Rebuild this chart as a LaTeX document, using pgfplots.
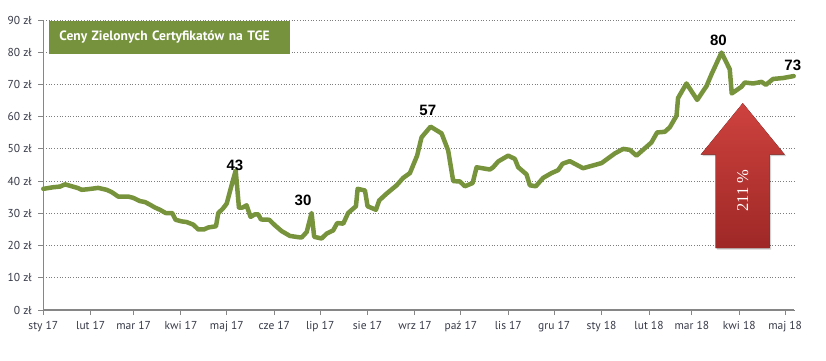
\documentclass[border=0pt]{standalone}
\usepackage{pgfplots}
\pgfplotsset{compat=1.18}
\usepackage{fontspec}
\setmainfont{PT Sans}
\newfontfamily\numfont{Liberation Sans}
\newfontfamily\arrowfont{Liberation Serif}
\definecolor{lineGreen}{RGB}{119,147,60}
\definecolor{boxGreen}{RGB}{118,146,60}
\definecolor{axisGray}{RGB}{134,134,134}
\definecolor{gridGray}{RGB}{125,125,125}
\definecolor{tickText}{RGB}{55,58,72}
\definecolor{arrowTop}{RGB}{206,66,62}
\definecolor{arrowBot}{RGB}{158,40,38}
\begin{document}
\begin{tikzpicture}
\begin{axis}[
  width=751pt, height=290pt, scale only axis,
  at={(0,0)}, anchor=south west,
  xmin=0, xmax=491, ymin=0, ymax=90,
  axis x line=bottom, axis y line=left,
  axis line style={axisGray, line width=1.3pt, -},
  xtick={0,31,59,90,120,151,181,212,243,273,304,334,365,396,424,455,485},
  xticklabels={sty 17,lut 17,mar 17,kwi 17,maj 17,cze 17,lip 17,sie 17,wrz 17,paź 17,lis 17,gru 17,sty 18,lut 18,mar 18,kwi 18,maj 18},
  ytick={0,10,...,90},
  yticklabels={0 zł,10 zł,20 zł,30 zł,40 zł,50 zł,60 zł,70 zł,80 zł,90 zł},
  tick align=outside,
  major tick length=5pt,
  tick style={axisGray, line width=1pt},
  ymajorgrids,
  major grid style={gridGray, line width=0.9pt, dash pattern=on 1pt off 1.7pt},
  ticklabel style={font=\fontsize{11.5}{13}\selectfont, text=tickText},
  xticklabel style={yshift=-3pt},
  yticklabel style={xshift=-3pt},
  clip=false,
]
\addplot[lineGreen, line width=4.5pt, line join=round, line cap=round] coordinates {
(0,37.6) (6.5,38.1) (10.9,38.3) (14.2,39.0) (18.6,38.4) (22.9,37.8) (25.1,37.3) (29.4,37.5)
(35.9,37.9) (41.4,37.3) (44.7,36.6) (49.0,35.2) (55.6,35.2) (58.8,34.8) (63.2,33.8) (66.5,33.5)
(69.7,32.7) (73.0,31.8) (76.3,31.1) (80.0,30.1) (84.3,30.1) (86.5,28.0) (90.5,27.5) (93.7,27.3)
(98.0,26.5) (101.3,25.0) (105.0,25.0) (107.8,25.6) (112.9,26.0) (114.4,30.1) (117.3,31.4) (119.9,33.0)
(123.1,38.7) (125.8,43.3) (127.9,31.8) (130.3,31.8) (132.9,32.5) (135.5,28.9) (138.4,29.7) (140.5,29.7)
(142.3,28.1) (147.7,28.0) (151.4,26.3) (155.8,24.5) (161.2,23.0) (166.7,22.6) (168.9,22.5) (172.2,24.2)
(175.4,30.1) (177.1,22.7) (182.0,22.2) (185.2,23.7) (189.5,24.7) (192.2,27.0) (196.1,26.8) (199.3,30.1)
(204.4,32.2) (205.5,37.6) (210.3,37.1) (212.0,32.2) (217.5,31.1) (219.6,34.0) (224.4,36.1) (231.0,38.7)
(235.3,41.0) (239.7,42.5) (244.4,47.9) (247.3,53.6) (253.2,56.9) (260.4,54.8) (264.7,49.5) (268.0,40.0)
(272.3,39.9) (275.6,38.4) (280.7,39.4) (283.3,44.3) (292.0,43.6) (294.1,44.3) (297.4,46.1) (303.9,47.9)
(308.3,46.9) (310.5,44.3) (315.9,42.1) (318.1,38.7) (322.0,38.4) (326.8,41.0) (332.3,42.5) (336.6,43.4)
(339.5,45.4) (344.2,46.2) (352.9,44.0) (365.0,45.6) (373.7,48.6) (379.1,50.0) (383.5,49.7) (387.8,47.9)
(393.3,50.2) (397.6,52.0) (401.3,55.1) (406.3,55.3) (409.6,56.7) (414.0,60.3) (415.0,65.8) (420.5,70.3)
(427.5,65.2) (433.6,69.5) (436.9,73.2) (443.4,79.9) (448.8,74.7) (450.1,67.2) (456.5,69.3) (458.6,70.6)
(464.1,70.3) (469.6,70.8) (472.4,69.9) (477.1,71.7) (483.7,72.0) (490.6,72.6)
};
% title box
\node[anchor=north west, fill=boxGreen, minimum height=33pt, text width=221pt, inner xsep=10pt, inner ysep=0pt,
  text=white, font=\bfseries\fontsize{13.5}{15}\selectfont, align=left] at (axis cs:3.9,89.9) {Ceny Zielonych Certyfikatów na TGE};
% value labels
\node[font=\numfont\bfseries\fontsize{15}{17}\selectfont] at (axis cs:125.3,44.8) {43};
\node[font=\numfont\bfseries\fontsize{15}{17}\selectfont] at (axis cs:169.8,34.0) {30};
\node[font=\numfont\bfseries\fontsize{15}{17}\selectfont] at (axis cs:251.4,61.8) {57};
\node[font=\numfont\bfseries\fontsize{15}{17}\selectfont] at (axis cs:441.4,83.7) {80};
\node[font=\numfont\bfseries\fontsize{15}{17}\selectfont] at (axis cs:490.0,75.8) {73};
% arrow
\fill[black, opacity=0.18, xshift=1.5pt, yshift=-1.5pt] (axis cs:439.6,19.2) -- (axis cs:474.9,19.2) -- (axis cs:474.9,48.2) -- (axis cs:484.8,48.2) -- (axis cs:457.3,64.2) -- (axis cs:429.8,48.2) -- (axis cs:439.6,48.2) -- cycle;
\fill[top color=arrowTop, bottom color=arrowBot] (axis cs:439.6,19.2) -- (axis cs:474.9,19.2) -- (axis cs:474.9,48.2) -- (axis cs:484.8,48.2) -- (axis cs:457.3,64.2) -- (axis cs:429.8,48.2) -- (axis cs:439.6,48.2) -- cycle;
\node[rotate=90, text=white, font=\arrowfont\fontsize{16.5}{18}\selectfont] at (axis cs:457.3,37.1) {211 \%};
\end{axis}
\pgfresetboundingbox
\path[use as bounding box] (-43.3pt,-50pt) rectangle (782.7pt,310pt);
\end{tikzpicture}
\end{document}
